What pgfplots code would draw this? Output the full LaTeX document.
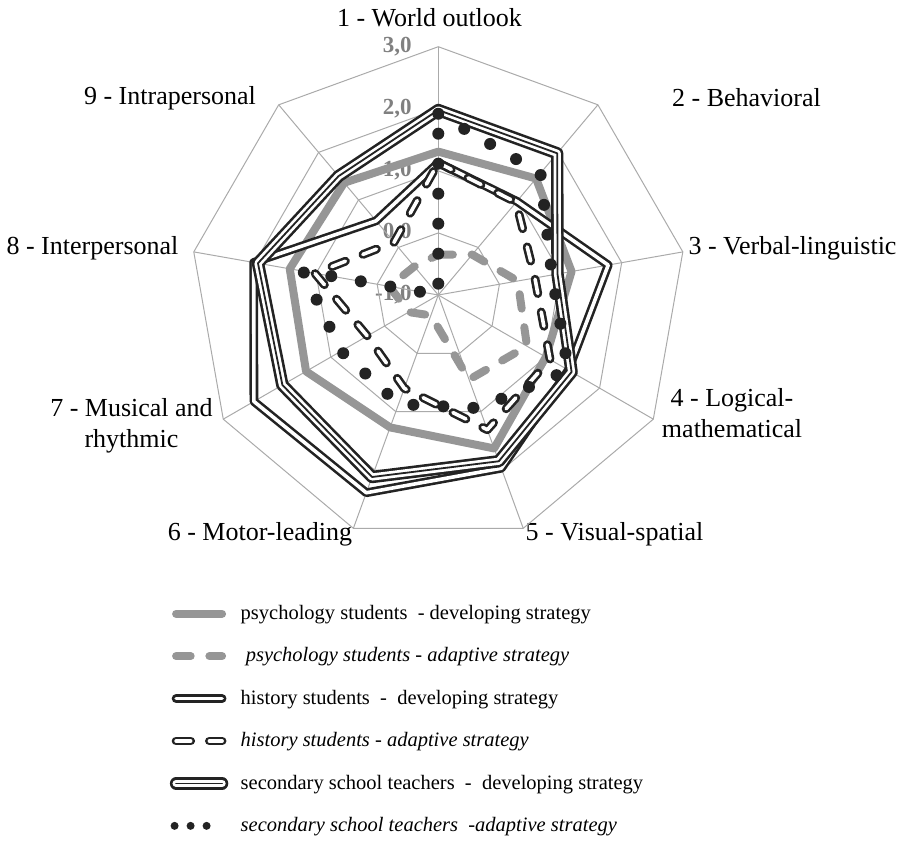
\documentclass[border=0pt]{standalone}
\usepackage{pgfplots}
\pgfplotsset{compat=1.18}
\usepackage{pgfplotstable}
\usepgfplotslibrary{polar}
\usepackage{fontspec}
\setmainfont{Liberation Serif}
\definecolor{gA}{RGB}{150,150,150}
\definecolor{gridc}{RGB}{170,170,170}
\definecolor{tickc}{RGB}{128,128,128}
\definecolor{blk}{RGB}{35,35,35}

\pgfplotsset{
  stdlegend/.style={legend image code/.code={\draw[##1] (0pt,0pt) -- (23pt,0pt); \path[draw=none] (0pt,0pt) -- (32.3pt,0pt);}},
  Elegend/.style={legend image code/.code={\draw[##1] (0pt,0pt) -- (23pt,0pt); \draw[blk, line width=0.9pt, double=none] (0pt,0pt) -- (23pt,0pt); \path[draw=none] (0pt,0pt) -- (32.3pt,0pt);}},
  Flegend/.style={legend image code/.code={\draw[blk, line width=4pt, line cap=round, dash pattern=on 0pt off 8pt] (-0.75pt,0pt) -- (15.3pt,0pt); \path[draw=none] (0pt,0pt) -- (32.3pt,0pt);}},
}

% angle  A=psych dev  B=psych adapt  C=history dev  D=history adapt  E=teachers dev  F=teachers adapt
\pgfplotstableread{
ang A B C D E F
90 1.31 -0.35 1.13 1.13 1.98 1.92
50 1.45 -0.15 0.97 0.95 1.98 1.56
10 1.18 0.30 1.78 0.58 0.95 0.86
330 1.00 0.65 1.42 1.08 1.48 1.42
290 1.63 0.45 1.97 1.31 1.85 0.94
250 1.27 -0.65 2.39 0.60 2.12 0.87
210 1.46 -0.45 2.43 0.32 1.90 0.81
170 1.43 -0.20 2.02 1.02 1.95 1.21
130 1.36 -0.40 0.56 0.11 1.50 -1.00
90 1.31 -0.35 1.13 1.13 1.98 1.92
}\data

\begin{document}
\begin{tikzpicture}
\path[use as bounding box] (0,0) rectangle (451pt,-420.5pt);
% value labels
\begin{scope}[every node/.style={anchor=east, inner sep=0pt, text=tickc, font=\bfseries\fontsize{11.5}{13}\selectfont}]
\node at (206pt,-23.5pt) {3,0};
\node at (206pt,-54.5pt) {2,0};
\node at (206pt,-85.5pt) {1,0};
\node at (206pt,-116.5pt) {0,0};
\node at (206pt,-147.5pt) {-1,0};
\end{scope}
% category labels
\begin{scope}[every node/.style={inner sep=0pt, align=center, font=\fontsize{13}{15.6}\selectfont}]
\node at (214.75pt,-9pt) {1 - World outlook};
\node at (373.25pt,-49pt) {2 - Behavioral};
\node at (396.25pt,-124pt) {3 - Verbal-linguistic};
\node at (366pt,-206.5pt) {4 - Logical-\\mathematical};
\node at (307.25pt,-267pt) {5 - Visual-spatial};
\node at (130pt,-267pt) {6 - Motor-leading};
\node at (65.75pt,-213pt) {7 - Musical and\\rhythmic};
\node at (46.25pt,-124pt) {8 - Interpersonal};
\node at (85pt,-49pt) {9 - Intrapersonal};
\end{scope}
\begin{polaraxis}[
  at={(219.15pt,-147.5pt)}, anchor=center,
  scale only axis, width=248.3pt, height=248.3pt,
  xmin=0, xmax=360, ymin=0, ymax=4,
  hide axis, clip=false,
  legend style={draw=none, fill=none, at={(axis description cs:-0.0413,-0.1237)}, anchor=north west,
    inner sep=0pt, row sep=12.6pt, font=\fontsize{10.25}{12.3}\selectfont,
    nodes={inner sep=0pt}},
  legend cell align=left,
  stdlegend,
]
% grid
\pgfplotsinvokeforeach{1,2,3,4}{
\addplot[gridc, line width=0.5pt, forget plot] coordinates {(90,#1) (50,#1) (10,#1) (330,#1) (290,#1) (250,#1) (210,#1) (170,#1) (130,#1) (90,#1)};
}
\pgfplotsinvokeforeach{90,50,10,330,290,250,210,170,130}{
\addplot[gridc, line width=0.5pt, forget plot] coordinates {(#1,0) (#1,4)};
}
% series
\addplot[gA, line width=4pt, line join=round, line cap=round] table[x=ang, y expr=\thisrow{A}+1] {\data};
\addlegendentry{psychology students\ \ - developing strategy}
\addplot[gA, line width=4pt, line join=round, line cap=round, dash pattern=on 7.3pt off 9.35pt] table[x=ang, y expr=\thisrow{B}+1] {\data};
\addlegendentry{\textit{\ psychology students - adaptive strategy}}
\addplot[blk, line width=1.3pt, double=white, double distance=1.8pt, line join=round, line cap=round] table[x=ang, y expr=\thisrow{C}+1] {\data};
\addlegendentry{history students\ \ -\ \ developing strategy}
\addplot[blk, line width=1.3pt, double=white, double distance=1.8pt, line join=round, line cap=round, dash pattern=on 7.3pt off 9.35pt] table[x=ang, y expr=\thisrow{D}+1] {\data};
\addlegendentry{\textit{history students - adaptive strategy}}
\addplot[blk, line width=1.3pt, double=white, double distance=3.6pt, line join=round, line cap=round, Elegend] table[x=ang, y expr=\thisrow{E}+1] {\data};
\addlegendentry{secondary school teachers\ \ -\ \ developing strategy}
\addplot[blk, line width=0.9pt, line join=round, forget plot] table[x=ang, y expr=\thisrow{E}+1] {\data};
\addplot[blk, line width=6pt, line cap=round, dash pattern=on 0pt off 15pt, Flegend] table[x=ang, y expr=\thisrow{F}+1] {\data};
\addlegendentry{\textit{secondary school teachers\ \ -adaptive strategy}}
\end{polaraxis}
\end{tikzpicture}
\end{document}
